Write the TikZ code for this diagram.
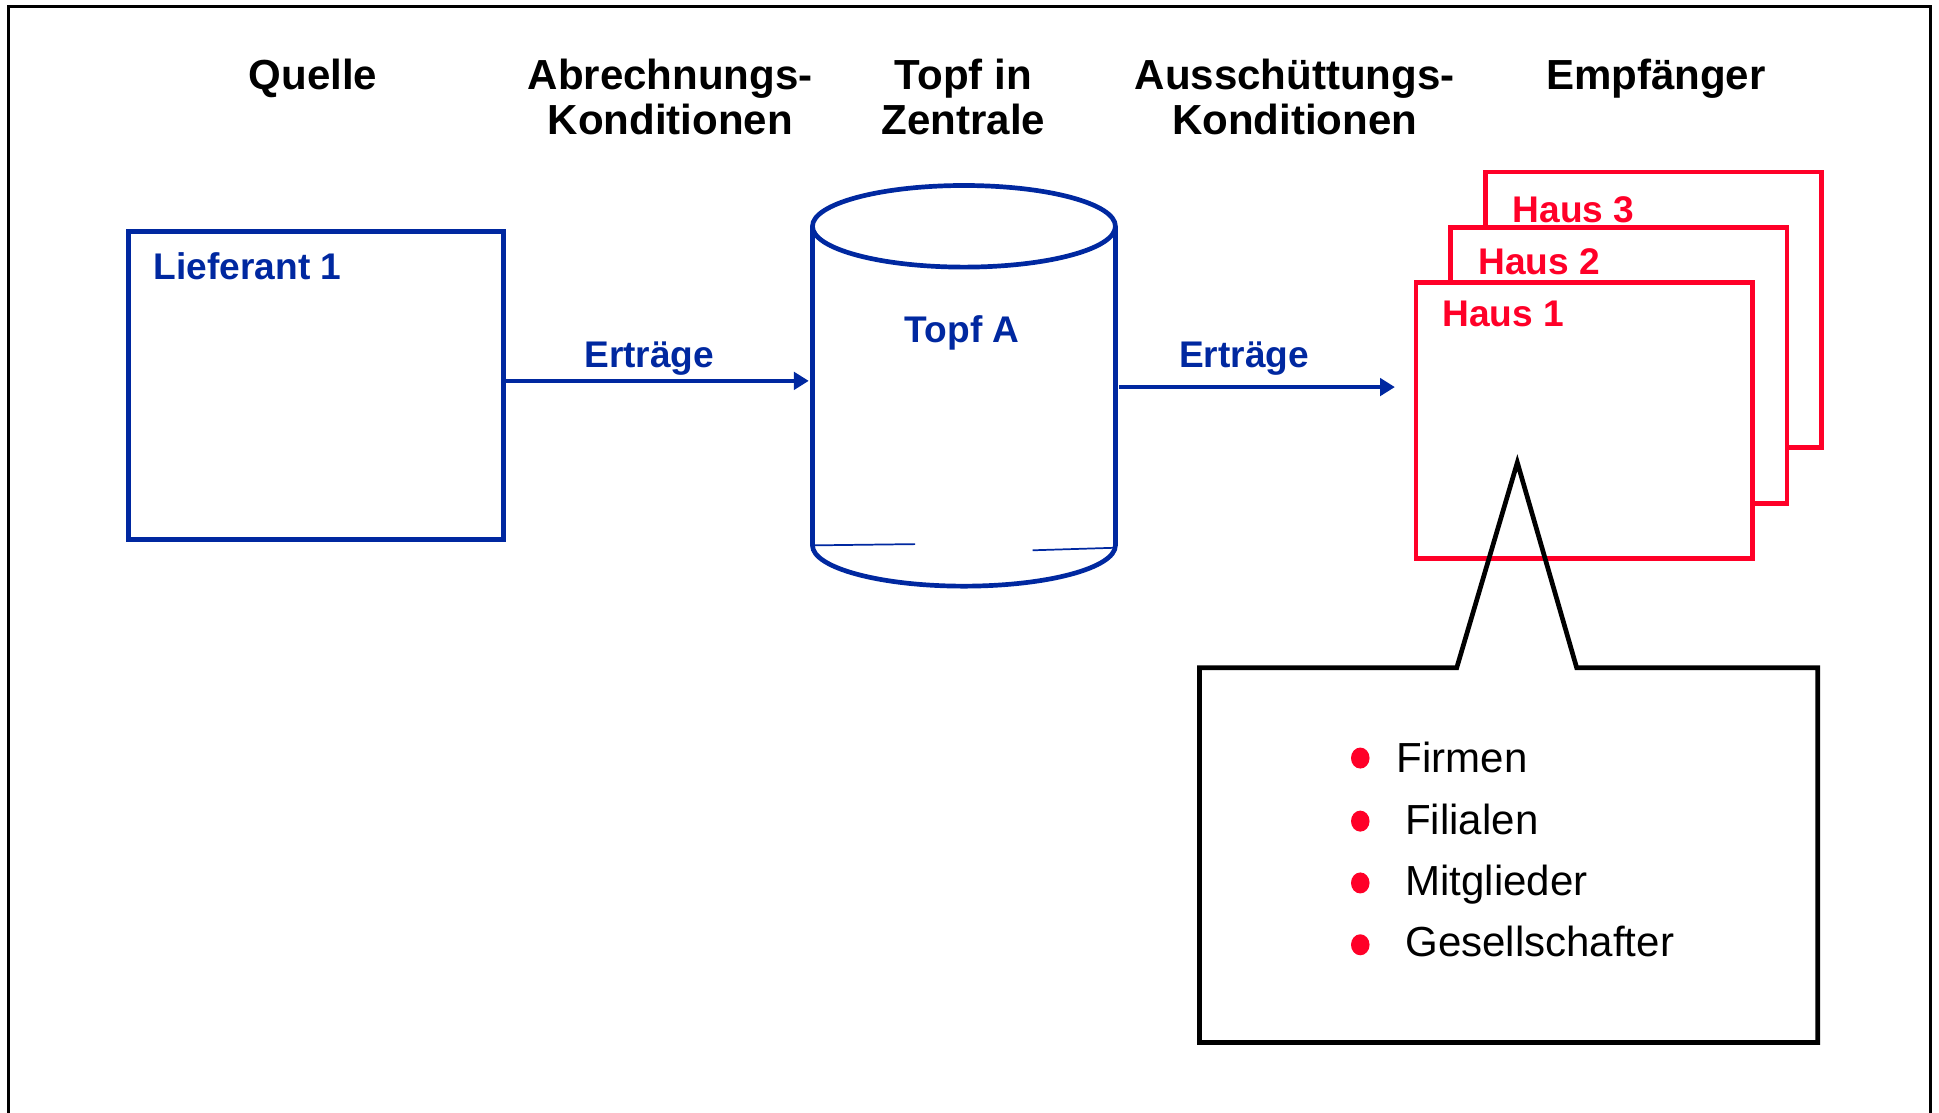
\documentclass[tikz,border=0pt]{standalone}
\usepackage{fontspec}
\setmainfont{Liberation Sans}
\usetikzlibrary{arrows.meta,shapes.geometric}
\definecolor{dblue}{RGB}{0,40,160}
\definecolor{hred}{RGB}{255,0,40}
\tikzset{
  head/.style={font=\fontsize{17}{18.5}\selectfont\bfseries, align=center, inner sep=0pt},
  bluelbl/.style={font=\fontsize{15}{17}\selectfont\bfseries, text=dblue, inner sep=0pt},
  redlbl/.style={font=\fontsize{15}{17}\selectfont\bfseries, text=hred, inner sep=0pt},
  bluebox/.style={draw=dblue, line width=1.9pt, inner sep=0pt, outer sep=0pt, minimum width=151.5pt, minimum height=124.5pt},
  housebox/.style={draw=hred, fill=white, line width=1.9pt, inner sep=0pt, outer sep=0pt, minimum width=136pt, minimum height=111.5pt},
  flow/.style={draw=dblue, line width=1.8pt, -{Triangle[length=6pt,width=7pt]}},
  itemtxt/.style={font=\fontsize{17}{19}\selectfont, anchor=base west, inner sep=0pt},
  dot/.style={fill=hred, ellipse, inner sep=0pt, minimum width=7.5pt, minimum height=8.5pt},
}
\begin{document}
\begin{tikzpicture}[x=0.5pt,y=0.5pt]
\useasboundingbox (0,0) rectangle (1568,-900);
% outer frame (open at bottom)
\draw[line width=1.3pt] (7,-900) -- (7,-5) -- (1561,-5) -- (1561,-900);

% headings
\node[head, anchor=base] (hq) at (253,-72) {Quelle};
\node[head, anchor=base] (ha) at (542,-109) {Abrechnungs-\\Konditionen};
\node[head, anchor=base] (ht) at (779,-109) {Topf in\\Zentrale};
\node[head, anchor=base] (hs) at (1047,-109) {Ausschüttungs-\\Konditionen};
\node[head, anchor=base] (he) at (1339,-72) {Empfänger};

% Lieferant box
\node[bluebox] (lief) at (255.5,-311.5) {};
\node[bluelbl, anchor=base west] (lieflbl) at (124,-226) {Lieferant 1};

% cylinder
\draw[dblue, line width=1.9pt] (779.5,-183) ellipse [x radius=122.5, y radius=33];
\draw[dblue, line width=1.9pt] (657,-183) -- (657,-441)
   arc[start angle=180, end angle=360, x radius=122.5, y radius=33] -- (902,-183);
\draw[dblue, line width=0.7pt] (659,-441) -- (740,-440);
\draw[dblue, line width=0.7pt] (835,-445) -- (900,-443);
\node[inner sep=0pt, minimum width=122.5pt, minimum height=145pt] (topf) at (779.5,-312) {};
\node[bluelbl, anchor=base] (topflbl) at (778,-277) {Topf A};

% houses
\node[housebox] (h3) at (1337,-250.5) {};
\node[redlbl, anchor=base west] (h3lbl) at (1223,-180) {Haus 3};
\node[housebox] (h2) at (1309,-295.5) {};
\node[redlbl, anchor=base west] (h2lbl) at (1195,-222) {Haus 2};
\node[housebox] (h1) at (1281,-340) {};
\node[redlbl, anchor=base west] (h1lbl) at (1166,-264) {Haus 1};

% arrows
\coordinate (a1s) at (407,-308);
\coordinate (a1e) at (654,-308);
\coordinate (a2s) at (905,-313);
\coordinate (a2e) at (1128,-313);
\draw[flow] (a1s) -- (a1e);
\draw[flow] (a2s) -- (a2e);
\node[bluelbl, anchor=base] (e1) at (525,-297) {Erträge};
\node[bluelbl, anchor=base] (e2) at (1006,-297) {Erträge};

% callout
\draw[line width=1.9pt] (1178,-540) -- (970,-540) -- (970,-843) -- (1470,-843)
   -- (1470,-540) -- (1275,-540) -- (1227,-374) -- cycle;

% bullet list
\node[dot] (d1) at (1100,-613) {};
\node[dot] (d2) at (1100,-664) {};
\node[dot] (d3) at (1100,-714) {};
\node[dot] (d4) at (1100,-764) {};
\node[itemtxt] (t1) at (1129,-625) {Firmen};
\node[itemtxt] (t2) at (1136,-674.5) {Filialen};
\node[itemtxt] (t3) at (1136,-724) {Mitglieder};
\node[itemtxt] (t4) at (1136,-773.5) {Gesellschafter};
\end{tikzpicture}
\end{document}
